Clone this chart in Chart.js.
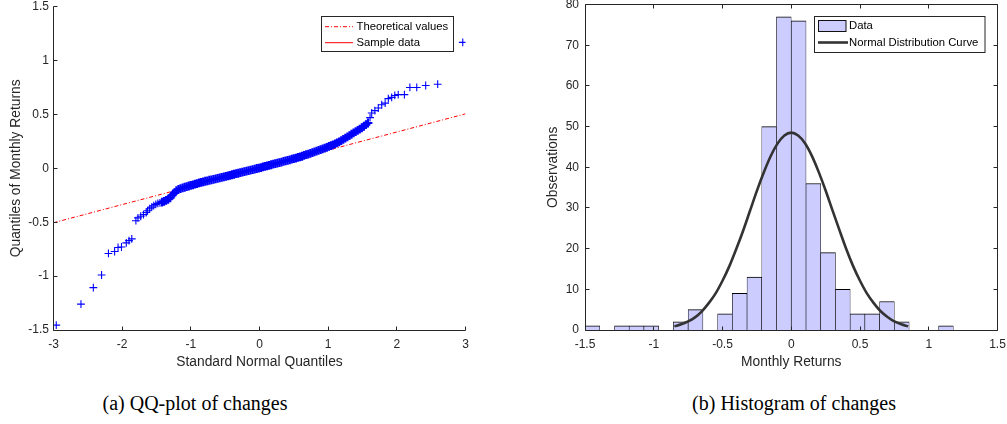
<!DOCTYPE html>
<html>
<head>
<meta charset="utf-8">
<script src="https://cdn.jsdelivr.net/npm/chart.js@4.4.1/dist/chart.umd.min.js"></script>
<style>
  html, body { margin: 0; padding: 0; background: #fff; }
  body { width: 1007px; height: 424px; position: relative; overflow: hidden; }
  #qq { position: absolute; left: 0; top: 0; }
  #hist { position: absolute; left: 500px; top: 0; }
  .cap {
    position: absolute; top: 391px;
    font-family: "Liberation Serif", "DejaVu Serif", serif;
    font-size: 20px; line-height: 24px; color: #000;
    white-space: nowrap; transform: translateX(-50%);
  }
</style>
</head>
<body>
<canvas id="qq" width="500" height="380"></canvas>
<canvas id="hist" width="507" height="380"></canvas>
<div class="cap" style="left:195px">(a) QQ-plot of changes</div>
<div class="cap" style="left:794px">(b) Histogram of changes</div>

<script>
// ---- QQ plot: standard normal quantiles (x) vs sorted monthly returns (y) ----
const qqLowX = [-2.96, -2.60, -2.42, -2.30, -2.20, -2.11, -2.06, -2.01, -1.94, -1.90, -1.86, -1.80,
                -1.77, -1.73, -1.69, -1.65, -1.63, -1.60, -1.57, -1.54, -1.51, -1.48, -1.45];
const qqLowY = [-1.455, -1.26, -1.107, -0.99, -0.79, -0.772, -0.734, -0.73, -0.692, -0.671, -0.655, -0.486,
                -0.46, -0.445, -0.43, -0.41, -0.394, -0.375, -0.36, -0.347, -0.335, -0.326, -0.32];

const qqBodyX = [
  -1.42,-1.39,-1.36,-1.33,-1.30,-1.27,-1.24,-1.21,-1.18,-1.15,
  -1.12,-1.09,-1.06,-1.03,-1.00,-0.97,-0.94,-0.91,-0.88,-0.85,
  -0.82,-0.79,-0.76,-0.73,-0.70,-0.67,-0.64,-0.61,-0.58,-0.55,
  -0.52,-0.49,-0.46,-0.43,-0.40,-0.37,-0.34,-0.31,-0.28,-0.25,
  -0.22,-0.19,-0.16,-0.13,-0.10,-0.07,-0.04,-0.01,0.02,0.05,
  0.08,0.11,0.14,0.17,0.20,0.23,0.26,0.29,0.32,0.35,
  0.38,0.41,0.44,0.47,0.50,0.53,0.56,0.59,0.62,0.65,
  0.68,0.71,0.74,0.77,0.80,0.83,0.86,0.89,0.92,0.95,
  0.98,1.01,1.04,1.07,1.10,1.13,1.16,1.19,1.22,1.25,
  1.28,1.31,1.34,1.37,1.40,1.43,1.46,1.49,1.52,1.55,1.58];
const qqBodyY = [
  -0.314,-0.307,-0.298,-0.287,-0.273,-0.250,-0.228,-0.207,-0.196,-0.189,
  -0.182,-0.176,-0.170,-0.164,-0.158,-0.153,-0.147,-0.142,-0.136,-0.131,
  -0.126,-0.120,-0.116,-0.111,-0.107,-0.102,-0.098,-0.093,-0.089,-0.084,
  -0.079,-0.074,-0.070,-0.065,-0.060,-0.055,-0.050,-0.046,-0.041,-0.036,
  -0.031,-0.026,-0.022,-0.017,-0.012,-0.007,-0.002,0.002,0.007,0.013,
  0.018,0.023,0.028,0.033,0.038,0.043,0.048,0.053,0.058,0.064,
  0.069,0.074,0.079,0.085,0.090,0.095,0.101,0.106,0.112,0.119,
  0.126,0.132,0.139,0.145,0.152,0.159,0.166,0.174,0.181,0.188,
  0.195,0.203,0.210,0.218,0.226,0.236,0.246,0.257,0.268,0.280,
  0.292,0.304,0.316,0.328,0.340,0.352,0.364,0.376,0.390,0.405,0.420];

const qqHighX = [1.61, 1.634, 1.68, 1.73, 1.78, 1.83, 1.876, 1.925, 1.97, 2.02, 2.11, 2.19, 2.29, 2.42, 2.595, 2.96];
const qqHighY = [0.47, 0.513, 0.535, 0.559, 0.59, 0.605, 0.646, 0.658, 0.676, 0.683, 0.683, 0.75, 0.75, 0.768, 0.78, 1.168];

// reference line through the quartiles
const refLineX = [-3, 3];
const refLineY = [-0.505, 0.505];

const qqXTicks = [-3, -2, -1, 0, 1, 2, 3];
const qqYTicks = [-1.5, -1, -0.5, 0, 0.5, 1, 1.5];

// ---- Histogram of monthly returns (28 bins of width 3/28 on [-1.5, 1.5]) ----
const binCenters = [-1.446, -1.339, -1.232, -1.125, -1.018, -0.911, -0.804, -0.696, -0.589, -0.482,
                    -0.375, -0.268, -0.161, -0.054, 0.054, 0.161, 0.268, 0.375, 0.482, 0.589,
                    0.696, 0.804, 0.911, 1.018, 1.125, 1.232, 1.339, 1.446];
const binCounts  = [1, 0, 1, 1, 1, 0, 2, 5, 0, 4,
                    9, 13, 50, 77, 76, 36, 19, 10, 4, 4,
                    7, 2, 0, 0, 1, 0, 0, 0];

// fitted normal curve, scaled to counts
const curveX = [-0.85,-0.80,-0.75,-0.70,-0.65,-0.60,-0.55,-0.50,-0.45,-0.40,-0.35,-0.30,
                -0.25,-0.20,-0.15,-0.10,-0.05,0,0.05,0.10,0.15,0.20,0.25,0.30,
                0.35,0.40,0.45,0.50,0.55,0.60,0.65,0.70,0.75,0.80,0.85];
const curveY = [0.9,1.4,2.1,3.1,4.6,6.6,9.0,12.1,15.7,19.9,24.4,29.3,
                34.2,38.7,42.7,45.8,47.8,48.5,47.8,45.9,42.8,38.8,34.3,29.4,
                24.6,19.9,15.7,12.1,9.0,6.6,4.6,3.2,2.1,1.4,0.9];

const histXTicks = [-1.5, -1, -0.5, 0, 0.5, 1, 1.5];
const histYTicks = [0, 10, 20, 30, 40, 50, 60, 70, 80];

// ---- shared styling ----
const FONT = '"Liberation Sans", Arial, Helvetica, sans-serif';
const AXIS = '#262626';
Chart.defaults.font.family = FONT;
Chart.defaults.color = AXIS;

const fmt = v => String(Number(v.toFixed(3)));
const zip = (xs, ys) => xs.map((x, i) => ({ x, y: ys[i] }));

// axis lines with inward tick marks
function makeAxes(box) {
  return {
    id: 'axesInward',
    afterDatasetsDraw(chart) {
      const { ctx, chartArea: a, scales: { x, y } } = chart;
      const crisp = v => Math.floor(v) + 0.5;
      const L = 4;
      const left = crisp(a.left), right = crisp(a.right), top = crisp(a.top), bottom = crisp(a.bottom);
      ctx.save();
      ctx.strokeStyle = AXIS;
      ctx.lineWidth = 1;
      ctx.setLineDash([]);
      ctx.beginPath();
      ctx.moveTo(left, top); ctx.lineTo(left, bottom); ctx.lineTo(right, bottom);
      if (box) { ctx.lineTo(right, top); ctx.lineTo(left, top); }
      x.ticks.forEach(t => {
        const px = crisp(x.getPixelForValue(t.value));
        ctx.moveTo(px, bottom); ctx.lineTo(px, bottom - L);
        if (box) { ctx.moveTo(px, top); ctx.lineTo(px, top + L); }
      });
      y.ticks.forEach(t => {
        const py = crisp(y.getPixelForValue(t.value));
        ctx.moveTo(left, py); ctx.lineTo(left + L, py);
        if (box) { ctx.moveTo(right, py); ctx.lineTo(right - L, py); }
      });
      ctx.stroke();
      ctx.restore();
    }
  };
}

// boxed legend drawn inside the plot area
function makeLegend(cfg) {
  return {
    id: 'boxLegend',
    afterDraw(chart) {
      const ctx = chart.ctx;
      ctx.save();
      ctx.fillStyle = '#fff';
      ctx.fillRect(cfg.x, cfg.y, cfg.w, cfg.h);
      ctx.strokeStyle = AXIS; ctx.lineWidth = 1; ctx.setLineDash([]);
      ctx.strokeRect(cfg.x, cfg.y, cfg.w, cfg.h);
      ctx.font = '11.3px ' + FONT;
      ctx.textBaseline = 'middle';
      cfg.items.forEach(it => {
        if (it.patch) {
          ctx.fillStyle = it.fill;
          ctx.fillRect(it.x0, it.y - 5.5, it.x1 - it.x0, 11);
          ctx.strokeStyle = it.stroke; ctx.lineWidth = 1;
          ctx.strokeRect(it.x0, it.y - 5.5, it.x1 - it.x0, 11);
        } else {
          ctx.strokeStyle = it.color; ctx.lineWidth = it.width;
          ctx.setLineDash(it.dash || []);
          ctx.beginPath(); ctx.moveTo(it.x0, it.y); ctx.lineTo(it.x1, it.y); ctx.stroke();
          ctx.setLineDash([]);
        }
        ctx.fillStyle = '#000';
        ctx.fillText(it.text, cfg.textX, it.y);
      });
      ctx.restore();
    }
  };
}

function fixedAxis(size, isX) {
  return s => {
    if (isX) { s.height = size; s.paddingLeft = 0; s.paddingRight = 0; }
    else { s.width = size; s.paddingTop = 0; s.paddingBottom = 0; }
  };
}

const tickFont = { size: 12 };
const titleFont = { size: 13.8 };
const DASHDOT = [4, 2, 1, 2];

// ---------------- (a) QQ plot ----------------
const qqDatasetStyle = {
  showLine: false, pointStyle: 'cross',
  pointBorderColor: '#0000ff', pointBackgroundColor: '#0000ff', order: 1
};
new Chart(document.getElementById('qq'), {
  type: 'scatter',
  data: {
    datasets: [
      Object.assign({ label: 'Sample data', data: zip(qqLowX, qqLowY), pointRadius: 3.9, pointBorderWidth: 1.1 }, qqDatasetStyle),
      Object.assign({ label: 'Sample data', data: zip(qqBodyX, qqBodyY), pointRadius: 4.4, pointBorderWidth: 2.2 }, qqDatasetStyle),
      Object.assign({ label: 'Sample data', data: zip(qqHighX, qqHighY), pointRadius: 3.9, pointBorderWidth: 1.1 }, qqDatasetStyle),
      {
        label: 'Theoretical values', data: zip(refLineX, refLineY), showLine: true,
        borderColor: '#ff0000', borderWidth: 1, borderDash: DASHDOT, pointRadius: 0, order: 2
      }
    ]
  },
  options: {
    responsive: false, animation: false, events: [],
    layout: { padding: { top: 4.5, right: 34.5, left: 0, bottom: 0 } },
    plugins: { legend: { display: false }, tooltip: { enabled: false } },
    scales: {
      x: {
        type: 'linear', min: -3, max: 3,
        afterBuildTicks: s => { s.ticks = qqXTicks.map(v => ({ value: v })); },
        afterFit: fixedAxis(50, true),
        grid: { display: false, drawTicks: false }, border: { display: false },
        ticks: { padding: 7, font: tickFont, color: AXIS, callback: fmt, maxRotation: 0 },
        title: { display: true, text: 'Standard Normal Quantiles', font: titleFont, color: AXIS,
                 padding: { top: 0, bottom: 9.2 } }
      },
      y: {
        type: 'linear', min: -1.5, max: 1.5,
        afterBuildTicks: s => { s.ticks = qqYTicks.map(v => ({ value: v })); },
        afterFit: fixedAxis(53.5, false),
        grid: { display: false, drawTicks: false }, border: { display: false },
        ticks: { padding: 4.5, font: tickFont, color: AXIS, callback: fmt },
        title: { display: true, text: 'Quantiles of Monthly Returns', font: titleFont, color: AXIS,
                 padding: { top: 7.5, bottom: 0 } }
      }
    }
  },
  plugins: [
    makeAxes(false),
    makeLegend({
      x: 321.5, y: 16.5, w: 132, h: 35, textX: 356.5,
      items: [
        { text: 'Theoretical values', x0: 325, x1: 353, y: 26.7, color: '#ff0000', width: 1, dash: DASHDOT },
        { text: 'Sample data', x0: 325, x1: 353, y: 42.7, color: '#ff0000', width: 1 }
      ]
    })
  ]
});

// ---------------- (b) Histogram ----------------
new Chart(document.getElementById('hist'), {
  type: 'bar',
  data: {
    datasets: [
      {
        type: 'line', label: 'Normal Distribution Curve', data: zip(curveX, curveY),
        borderColor: '#333333', borderWidth: 2.6, pointRadius: 0,
        cubicInterpolationMode: 'monotone', order: 0
      },
      {
        label: 'Data', data: zip(binCenters, binCounts),
        backgroundColor: '#ccccff', borderColor: '#000000',
        borderWidth: { top: 1, left: 0.6, right: 0.6, bottom: 0 },
        barPercentage: 1, categoryPercentage: 1, order: 1
      }
    ]
  },
  options: {
    responsive: false, animation: false, events: [],
    layout: { padding: { top: 4.5, right: 9.5, left: 0, bottom: 0 } },
    plugins: { legend: { display: false }, tooltip: { enabled: false } },
    scales: {
      x: {
        type: 'linear', min: -1.5, max: 1.5, offset: false,
        afterBuildTicks: s => { s.ticks = histXTicks.map(v => ({ value: v })); },
        afterFit: fixedAxis(50, true),
        grid: { display: false, drawTicks: false, offset: false }, border: { display: false },
        ticks: { padding: 7, font: tickFont, color: AXIS, callback: fmt, maxRotation: 0 },
        title: { display: true, text: 'Monthly Returns', font: titleFont, color: AXIS,
                 padding: { top: 0, bottom: 9.2 } }
      },
      y: {
        type: 'linear', min: 0, max: 80,
        afterBuildTicks: s => { s.ticks = histYTicks.map(v => ({ value: v })); },
        afterFit: fixedAxis(85, false),
        grid: { display: false, drawTicks: false }, border: { display: false },
        ticks: { padding: 6, font: tickFont, color: AXIS, callback: fmt },
        title: { display: true, text: 'Observations', font: titleFont, color: AXIS,
                 padding: { top: 45.2, bottom: 0 } }
      }
    }
  },
  plugins: [
    makeAxes(true),
    makeLegend({
      x: 314.5, y: 16.5, w: 170.5, h: 36, textX: 349,
      items: [
        { text: 'Data', patch: true, x0: 318.5, x1: 346, y: 26, fill: '#ccccff', stroke: '#111111' },
        { text: 'Normal Distribution Curve', x0: 318, x1: 348, y: 42.5, color: '#333333', width: 2.6 }
      ]
    })
  ]
});
</script>
</body>
</html>
